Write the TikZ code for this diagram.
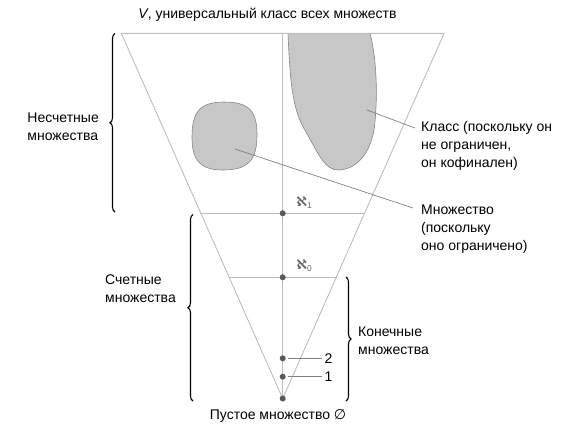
\documentclass[tikz,border=0pt]{standalone}
\usepackage{fontspec}
\setmainfont{Liberation Sans}
\newfontfamily\symfont{DejaVu Sans}
\usetikzlibrary{decorations.pathreplacing}
\definecolor{triline}{gray}{0.74}
\definecolor{blobfill}{gray}{0.78}
\definecolor{blobedge}{gray}{0.52}
\definecolor{leader}{gray}{0.5}
\definecolor{dotcol}{gray}{0.35}
\definecolor{alephcol}{gray}{0.42}
\tikzset{
  triln/.style={draw=triline, line width=0.9pt},
  blob/.style={fill=blobfill, draw=blobedge, line width=0.6pt},
  leadln/.style={draw=leader, line width=0.7pt},
  dotnode/.style={circle, fill=dotcol, inner sep=0pt, minimum size=6pt},
  lbl/.style={font=\fontsize{14}{18}\selectfont, inner sep=0pt, align=left},
  alephlbl/.style={text=alephcol, inner sep=0pt, font=\fontsize{13.5}{14}\selectfont},
  bracedec/.style={decorate, decoration={brace, amplitude=5pt}, line width=1.1pt, draw=black},
}
\newcommand{\alephsub}[1]{{\symfont\bfseries ℵ}\raisebox{-2pt}{\fontsize{8.5}{8.5}\selectfont #1}}
\begin{document}
\begin{tikzpicture}[x=1pt,y=-1pt]
\useasboundingbox (0,0) rectangle (569,432);
% blobs
\draw[blob] (288,33.3) .. controls (290,80) and (292,110) .. (306,132)
  .. controls (318,153) and (325,171) .. (339,170)
  .. controls (358,169) and (370,152) .. (374,130)
  .. controls (378,100) and (377,60) .. (370,33.3) -- cycle;
\draw[blob] (224,102) .. controls (250,102) and (257,112) .. (257,135)
  .. controls (257,160) and (248,170) .. (223,170)
  .. controls (198,170) and (192,158) .. (192,137)
  .. controls (192,112) and (200,102) .. (224,102) -- cycle;
% triangle
\coordinate (tl) at (121.3,33.3);
\coordinate (tr) at (444.1,33.3);
\coordinate (ap) at (282.7,398.5);
\coordinate (topmid) at (282.7,33.3);
\draw[triln] (tl) -- (tr) -- (ap) -- cycle;
\coordinate (a1l) at (200.4,213.3);
\coordinate (a1r) at (365,213.3);
\coordinate (a0l) at (228.9,277.3);
\coordinate (a0r) at (336.5,277.3);
\draw[triln] (a1l) -- (a1r);
\draw[triln] (a0l) -- (a0r);
\draw[triln] (topmid) -- (ap);
% dots
\node[dotnode] (d1) at (282.7,213.3) {};
\node[dotnode] (d0) at (282.7,277.3) {};
\node[dotnode] (dtwo) at (282.7,358.3) {};
\node[dotnode] (done) at (282.7,376.7) {};
\node[dotnode] (dempty) at (282.7,398.5) {};
% aleph labels
\node[alephlbl] (al1) at (304,202.5) {\alephsub{1}};
\node[alephlbl] (al0) at (304,265.5) {\alephsub{0}};
% number labels
\node[lbl, anchor=west] (ltwo) at (324.5,358.3) {2};
\node[lbl, anchor=west] (lone) at (324.5,376.7) {1};
\draw[leadln] ([xshift=2pt]dtwo.east) -- ([xshift=-2.5pt]ltwo.west);
\draw[leadln] ([xshift=2pt]done.east) -- ([xshift=-2.5pt]lone.west);
% title and bottom
\node[lbl] (title) at (267.5,15) {\textit{V}, универсальный класс всех множеств};
\node[lbl] (empty) at (278,416) {Пустое множество {\symfont ∅}};
% braces
\draw[bracedec] (115,212) -- (115,33.5);
\draw[bracedec] (193,401) -- (193,214.5);
\draw[bracedec] (346,277) -- (346,401);
\node[lbl, anchor=east] (unc) at (99,126.5) {Несчетные\\множества};
\node[lbl, anchor=east] (cnt) at (176,288.5) {Счетные\\множества};
\node[lbl, anchor=west] (fin) at (358,341) {Конечные\\множества};
% class and set labels
\node[lbl, anchor=north west] (cls) at (421,121.5) {Класс (поскольку он\\не ограничен,\\он кофинален)};
\node[lbl, anchor=north west] (set) at (421,204.5) {Множество\\(поскольку\\оно ограничено)};
\coordinate (clsin) at (367,110);
\coordinate (clsend) at (415,128);
\coordinate (setin) at (235,149);
\coordinate (setend) at (413,208);
\draw[leadln] (clsin) -- (clsend);
\draw[leadln] (setin) -- (setend);
\end{tikzpicture}
\end{document}
